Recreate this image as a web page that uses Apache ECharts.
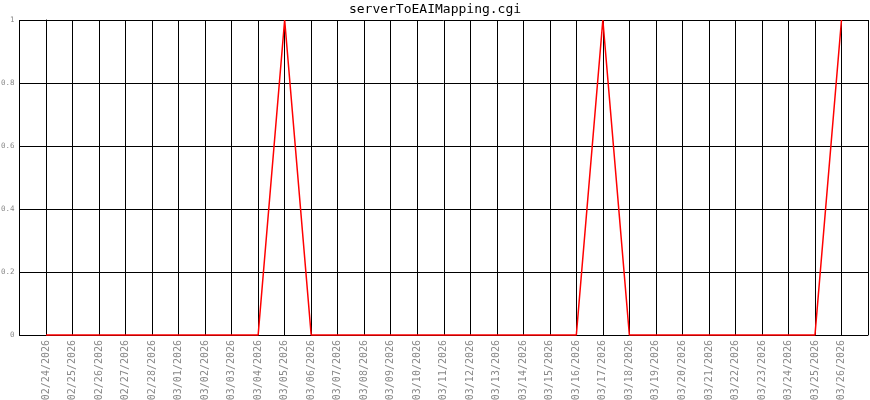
<!DOCTYPE html>
<html><head><meta charset="utf-8">
<script src="https://cdn.jsdelivr.net/npm/echarts@6/dist/echarts.min.js"></script>
<style>html,body{margin:0;padding:0;background:#fff}#c{width:870px;height:400px}</style>
</head><body><div id="c"></div>
<script>
const titleText = "serverToEAIMapping.cgi";
const dates = ["02/24/2026","02/25/2026","02/26/2026","02/27/2026","02/28/2026","03/01/2026","03/02/2026","03/03/2026","03/04/2026","03/05/2026","03/06/2026","03/07/2026","03/08/2026","03/09/2026","03/10/2026","03/11/2026","03/12/2026","03/13/2026","03/14/2026","03/15/2026","03/16/2026","03/17/2026","03/18/2026","03/19/2026","03/20/2026","03/21/2026","03/22/2026","03/23/2026","03/24/2026","03/25/2026","03/26/2026"];
const values = [0,0,0,0,0,0,0,0,0,1,0,0,0,0,0,0,0,0,0,0,0,1,0,0,0,0,0,0,0,0,1];
const yTicks = [0,0.2,0.4,0.6,0.8,1];

const chart = echarts.init(document.getElementById('c'), null, {renderer:'canvas'});
const mono = '"DejaVu Sans Mono", monospace';
chart.setOption({
  animation:false,
  backgroundColor:'#fff',
  title:{text:titleText,left:'center',top:-2,textStyle:{fontFamily:mono,fontSize:13,fontWeight:'normal',color:'#000'}},
  grid:{left:19.5,right:2,top:20,bottom:65,containLabel:false,outerBoundsMode:'none'},
  xAxis:{type:'value',min:-1,max:dates.length,interval:1,
    axisLine:{show:true,onZero:false,lineStyle:{color:'#000',width:1}},
    axisTick:{show:false},
    splitLine:{show:true,lineStyle:{color:'#000',width:1}},
    axisLabel:{rotate:90,fontFamily:mono,fontSize:10,color:'#888',margin:5,
      formatter:v=>(v>=0&&v<dates.length&&Number.isInteger(v))?dates[v]:''}},
  yAxis:{type:'value',min:0,max:1,interval:0.2,
    axisLine:{show:true,lineStyle:{color:'#000'}},
    axisTick:{show:false},
    splitLine:{show:true,lineStyle:{color:'#000',width:1}},
    axisLabel:{fontFamily:mono,fontSize:7.5,color:'#888',margin:5,
      formatter:v=>{const t=yTicks.find(k=>Math.abs(k-v)<1e-9);return t===undefined?'':String(t);}}},
  series:[{type:'line',data:values.map((v,i)=>[i,v]),symbol:'none',clip:false,
    lineStyle:{color:'#ff0000',width:1.5},z:10,zlevel:1}]
});
</script></body></html>
